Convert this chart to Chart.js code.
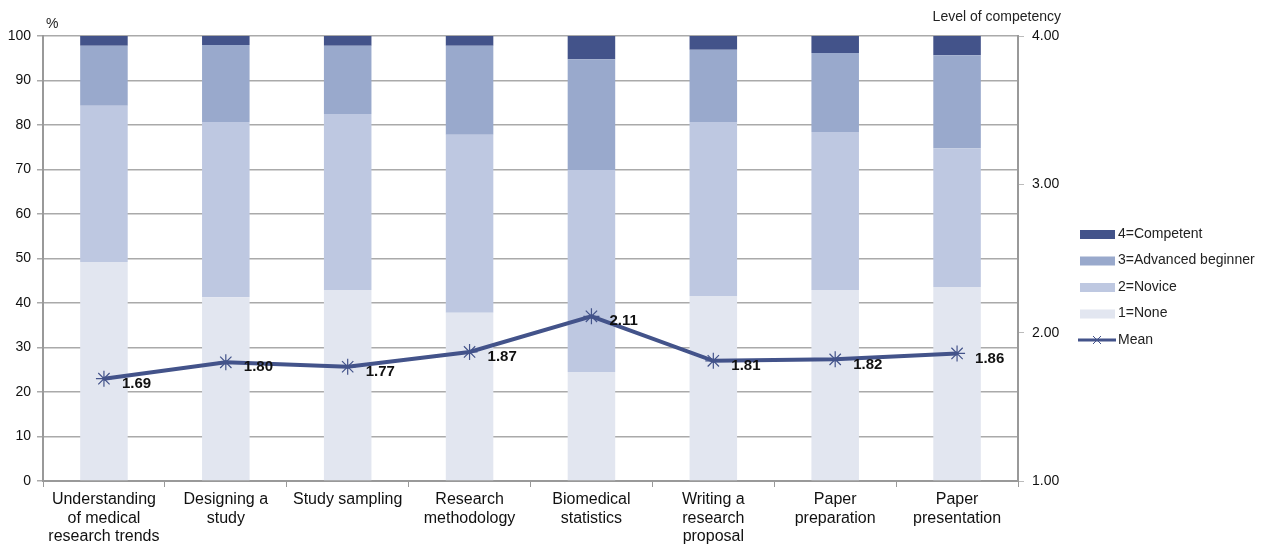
<!DOCTYPE html>
<html>
<head>
<meta charset="utf-8">
<script src="https://cdn.jsdelivr.net/npm/chart.js@4/dist/chart.umd.min.js"></script>
<style>
  body { margin: 0; background: #fff; }
  #wrap { width: 1265px; height: 544px; }
</style>
</head>
<body>
<div id="wrap"><canvas id="canvas"></canvas></div>
<script>
const categories = [
  ['Understanding', 'of medical', 'research trends'],
  ['Designing a', 'study'],
  ['Study sampling'],
  ['Research', 'methodology'],
  ['Biomedical', 'statistics'],
  ['Writing a', 'research', 'proposal'],
  ['Paper', 'preparation'],
  ['Paper', 'presentation']
];
const none      = [49.2, 41.3, 42.9, 37.8, 24.5, 41.6, 42.9, 43.6];
const novice    = [35.1, 39.4, 39.6, 40.0, 45.4, 39.1, 35.5, 31.2];
const advanced  = [13.5, 17.3, 15.3, 20.0, 24.9, 16.2, 17.8, 20.9];
const competent = [2.2, 2.0, 2.2, 2.2, 5.2, 3.1, 3.8, 4.3];
const mean      = [1.69, 1.80, 1.77, 1.87, 2.11, 1.81, 1.82, 1.86];

const FONT = '"Liberation Sans", Arial, sans-serif';
const NAVY = '#43538a';

// подписи значений среднего
const meanLabels = {
  id: 'meanLabels',
  afterDatasetsDraw(chart) {
    const ctx = chart.ctx;
    const meta = chart.getDatasetMeta(4);
    ctx.save();
    ctx.font = 'bold 15px ' + FONT;
    ctx.fillStyle = '#111';
    ctx.textBaseline = 'middle';
    meta.data.forEach((p, i) => {
      ctx.fillText(mean[i].toFixed(2), p.x + 18, p.y + 5);
    });
    ctx.restore();
  }
};

// заголовки осей и легенда справа
const extras = {
  id: 'extras',
  afterDraw(chart) {
    const ctx = chart.ctx;
    const ca = chart.chartArea;
    ctx.save();
    ctx.font = '14px ' + FONT;
    ctx.fillStyle = '#222';
    ctx.textBaseline = 'middle';
    ctx.fillText('%', ca.left + 3, 24);
    ctx.textAlign = 'right';
    ctx.fillText('Level of competency', 1061, 17);
    ctx.textAlign = 'left';

    const items = [3, 2, 1, 0, 4];
    let y = 234;
    items.forEach(idx => {
      const ds = chart.data.datasets[idx];
      if (ds.type === 'line') {
        ctx.strokeStyle = NAVY;
        ctx.lineWidth = 3;
        ctx.beginPath();
        ctx.moveTo(1078, y);
        ctx.lineTo(1116, y);
        ctx.stroke();
        ctx.lineWidth = 1;
        ctx.beginPath();
        ctx.moveTo(1093, y - 4); ctx.lineTo(1101, y + 4);
        ctx.moveTo(1101, y - 4); ctx.lineTo(1093, y + 4);
        ctx.stroke();
        ctx.fillStyle = '#222';
        ctx.fillText(ds.label, 1118, y);
      } else {
        ctx.fillStyle = ds.backgroundColor;
        ctx.fillRect(1080, y - 4, 35, 9);
        ctx.fillStyle = '#222';
        ctx.fillText(ds.label, 1118, y);
      }
      y += 26.5;
    });
    ctx.restore();
  }
};

const ctx = document.getElementById('canvas').getContext('2d');
new Chart(ctx, {
  type: 'bar',
  data: {
    labels: categories,
    datasets: [
      { label: '1=None', data: none, backgroundColor: '#e2e6f0', yAxisID: 'y', order: 2 },
      { label: '2=Novice', data: novice, backgroundColor: '#bec8e1', yAxisID: 'y', order: 2 },
      { label: '3=Advanced beginner', data: advanced, backgroundColor: '#99a9cc', yAxisID: 'y', order: 2 },
      { label: '4=Competent', data: competent, backgroundColor: '#43538a', yAxisID: 'y', order: 2 },
      {
        type: 'line', label: 'Mean', data: mean, yAxisID: 'y2', order: 1,
        borderColor: NAVY, backgroundColor: NAVY, borderWidth: 4,
        pointStyle: 'star', pointRadius: 8, pointBorderWidth: 1.2,
        pointBorderColor: NAVY, tension: 0
      }
    ]
  },
  options: {
    responsive: true,
    maintainAspectRatio: false,
    animation: false,
    layout: { padding: { top: 36, right: 192, left: 0, bottom: 0 } },
    plugins: { legend: { display: false }, tooltip: { enabled: false } },
    datasets: { bar: { barPercentage: 0.39, categoryPercentage: 1 } },
    scales: {
      x: {
        stacked: true,
        grid: { offset: true, drawOnChartArea: false, color: '#999', tickLength: 6 },
        border: { color: '#999', width: 2 },
        ticks: { color: '#111', font: { family: FONT, size: 16, lineHeight: 1.13 }, maxRotation: 0, padding: 4 },
        afterFit(s) { s.height = 63; }
      },
      y: {
        stacked: true, min: 0, max: 100,
        ticks: { stepSize: 10, color: '#111', font: { family: FONT, size: 14 }, padding: 6 },
        grid: { color: '#aaa', lineWidth: 1.5, tickLength: 6 },
        border: { color: '#999', width: 2 },
        afterFit(s) { s.width = 43; }
      },
      y2: {
        position: 'right', min: 1, max: 4,
        ticks: { stepSize: 1, color: '#111', font: { family: FONT, size: 14 }, padding: 8,
          callback: v => v.toFixed(2) },
        grid: { drawOnChartArea: false, color: '#bbb', tickLength: 6 },
        border: { color: '#999', width: 2 },
        afterFit(s) { s.width = 55; }
      }
    }
  },
  plugins: [meanLabels, extras]
});
</script>
</body>
</html>
